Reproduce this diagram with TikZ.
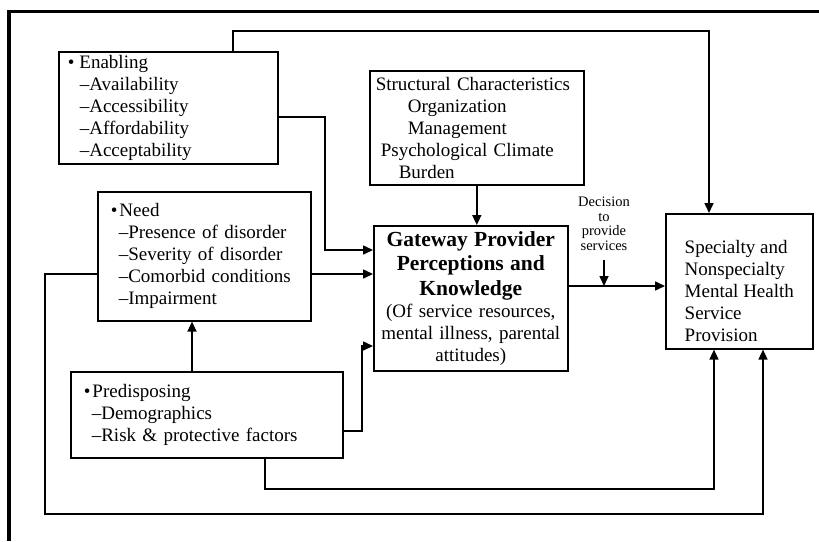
\documentclass[tikz,border=0pt]{standalone}
\usepackage{fontspec}
\setmainfont{Liberation Serif}
\usetikzlibrary{arrows.meta}

\begin{document}
\begin{tikzpicture}[x=1pt, y=-1pt, every node/.style={font=\fontsize{19}{22}\selectfont}, box/.style={draw, rectangle, line width=1.6pt, inner ysep=0pt, anchor=north west}, flow/.style={line width=1.6pt, -{Triangle[length=10pt, width=9pt]}}]
  \useasboundingbox (0,0) rectangle (819,541);
  \draw [line width=3.5pt] (819,11.5) -- (9,11.5) -- (9,541);

  \node (enab) [box, text width=201pt, inner xsep=9pt, minimum height=112pt, align=left] at (58,51) {\textbullet\hspace{5pt}Enabling\\\hspace*{12pt}\textendash Availability\\\hspace*{12pt}\textendash Accessibility\\\hspace*{12pt}\textendash Affordability\\\hspace*{12pt}\textendash Acceptability};
  \node (need) [box, text width=187pt, inner xsep=13pt, minimum height=129pt, align=left] at (97,191) {\textbullet\hspace{2pt}Need\\\hspace*{8pt}\textendash Presence of disorder\\\hspace*{8pt}\textendash Severity of disorder\\\hspace*{8pt}\textendash Comorbid conditions\\\hspace*{8pt}\textendash Impairment\\[6pt]};
  \node (pred) [box, text width=246pt, inner xsep=13pt, minimum height=86pt, align=left] at (70,371) {\textbullet\hspace{2pt}Predisposing\\\hspace*{8pt}\textendash Demographics\\\hspace*{8pt}\textendash Risk \& protective factors\\[14pt]};
  \node (struct) [box, text width=202pt, inner xsep=6pt, minimum height=114pt, align=left] at (369,70) {Structural Characteristics\\\hspace*{32pt}Organization\\\hspace*{32pt}Management\\\hspace*{5pt}Psychological Climate\\\hspace*{23pt}Burden};
  \node (gate) [box, text width=186pt, inner xsep=4pt, minimum height=145pt, align=center] at (373,225) {{\fontsize{21.5}{24.5}\selectfont\bfseries Gateway Provider\\Perceptions and\\Knowledge\par}(Of service resources,\\mental illness, parental\\attitudes)};
  \node (spec) [box, minimum width=147pt, inner xsep=18pt, minimum height=135pt, align=left] at (665,213) {\rule{0pt}{33pt}Specialty and\\Nonspecialty\\Mental Health\\Service\\Provision};
  \node (dec) [font=\fontsize{14.5}{14.5}\selectfont, align=center, inner sep=0pt] at (604,224) {Decision\\to\\provide\\services};

  \coordinate (topL) at (233,31);
  \coordinate (topR) at (709,31);
  \coordinate (eBend) at (325,117);
  \coordinate (eIn) at (325,250);
  \coordinate (nOut) at (0,274);
  \coordinate (pUp) at (192,0);
  \coordinate (pBend) at (362,431);
  \coordinate (pIn) at (362,346);
  \coordinate (pLow) at (265,489);
  \coordinate (pLowR) at (714,489);
  \coordinate (nLoopT) at (45,274);
  \coordinate (nLoopB) at (45,514);
  \coordinate (nLoopR) at (763,514);
  \coordinate (dLine) at (0,286);

  \draw [flow] (topL |- enab.north) -- (topL) -- (topR) -- (topR |- spec.north);
  \draw [flow] (enab.east |- eBend) -- (eBend) -- (eIn) -- (gate.west |- eIn);
  \draw [flow] (need.east |- nOut) -- (gate.west |- nOut);
  \draw [flow] (pred.north -| pUp) -- (need.south -| pUp);
  \draw [flow] (pred.east |- pBend) -- (pBend) -- (pIn) -- (gate.west |- pIn);
  \draw [flow] (pred.south -| pLow) -- (pLow) -- (pLowR) -- (pLowR |- spec.south);
  \draw [flow] (need.west |- nLoopT) -- (nLoopT) -- (nLoopB) -- (nLoopR) -- (nLoopR |- spec.south);
  \draw [flow] (struct.south) -- (struct.south |- gate.north);
  \draw [flow] (gate.east |- dLine) -- (spec.west |- dLine);
  \draw [flow] ([yshift=-9pt]dec.south) -- (dec.south |- dLine);
\end{tikzpicture}
\end{document}
